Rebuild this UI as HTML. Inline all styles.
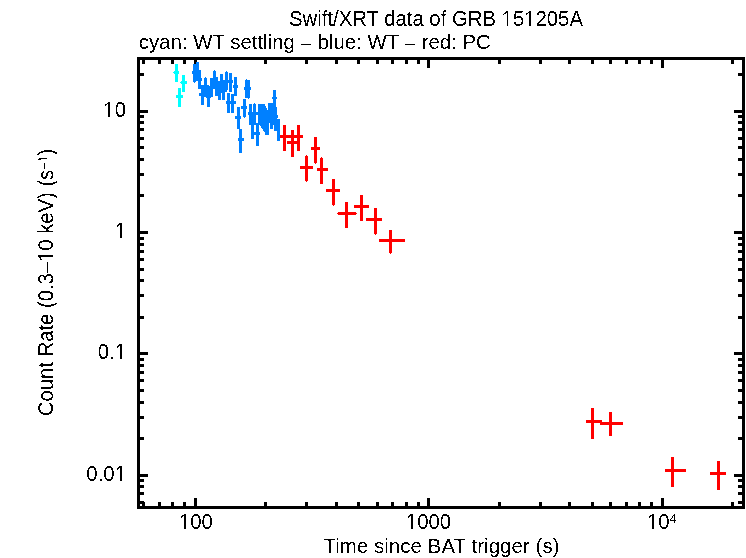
<!DOCTYPE html>
<html><head><meta charset="utf-8"><title>Swift/XRT data of GRB 151205A</title>
<style>
html,body{margin:0;padding:0;background:#fff;}
body{width:746px;height:558px;overflow:hidden;font-family:"Liberation Sans",sans-serif;}
svg{display:block;}
</style></head><body>
<svg width="746" height="558" viewBox="0 0 746 558">
<defs><filter id="bw" filterUnits="userSpaceOnUse" x="0" y="0" width="746" height="558" color-interpolation-filters="sRGB"><feComponentTransfer><feFuncA type="discrete" tableValues="0 1"/></feComponentTransfer></filter></defs>
<rect x="0" y="0" width="746" height="558" fill="#fff"/>
<g shape-rendering="crispEdges">
<g fill="#000">
<rect x="137" y="57" width="608" height="3"/>
<rect x="137" y="506" width="608" height="3"/>
<rect x="137" y="57" width="3" height="452"/>
<rect x="742" y="57" width="3" height="452"/>
<rect x="142" y="60" width="3" height="4"/>
<rect x="142" y="502" width="3" height="4"/>
<rect x="158" y="60" width="3" height="4"/>
<rect x="158" y="502" width="3" height="4"/>
<rect x="171" y="60" width="3" height="4"/>
<rect x="171" y="502" width="3" height="4"/>
<rect x="183" y="60" width="3" height="4"/>
<rect x="183" y="502" width="3" height="4"/>
<rect x="194" y="60" width="3" height="8"/>
<rect x="194" y="498" width="3" height="8"/>
<rect x="264" y="60" width="3" height="4"/>
<rect x="264" y="502" width="3" height="4"/>
<rect x="305" y="60" width="3" height="4"/>
<rect x="305" y="502" width="3" height="4"/>
<rect x="335" y="60" width="3" height="4"/>
<rect x="335" y="502" width="3" height="4"/>
<rect x="357" y="60" width="3" height="4"/>
<rect x="357" y="502" width="3" height="4"/>
<rect x="376" y="60" width="3" height="4"/>
<rect x="376" y="502" width="3" height="4"/>
<rect x="391" y="60" width="3" height="4"/>
<rect x="391" y="502" width="3" height="4"/>
<rect x="405" y="60" width="3" height="4"/>
<rect x="405" y="502" width="3" height="4"/>
<rect x="417" y="60" width="3" height="4"/>
<rect x="417" y="502" width="3" height="4"/>
<rect x="427" y="60" width="3" height="8"/>
<rect x="427" y="498" width="3" height="8"/>
<rect x="498" y="60" width="3" height="4"/>
<rect x="498" y="502" width="3" height="4"/>
<rect x="539" y="60" width="3" height="4"/>
<rect x="539" y="502" width="3" height="4"/>
<rect x="568" y="60" width="3" height="4"/>
<rect x="568" y="502" width="3" height="4"/>
<rect x="591" y="60" width="3" height="4"/>
<rect x="591" y="502" width="3" height="4"/>
<rect x="609" y="60" width="3" height="4"/>
<rect x="609" y="502" width="3" height="4"/>
<rect x="625" y="60" width="3" height="4"/>
<rect x="625" y="502" width="3" height="4"/>
<rect x="638" y="60" width="3" height="4"/>
<rect x="638" y="502" width="3" height="4"/>
<rect x="650" y="60" width="3" height="4"/>
<rect x="650" y="502" width="3" height="4"/>
<rect x="661" y="60" width="3" height="8"/>
<rect x="661" y="498" width="3" height="8"/>
<rect x="731" y="60" width="3" height="4"/>
<rect x="731" y="502" width="3" height="4"/>
<rect x="140" y="501" width="4" height="3"/>
<rect x="738" y="501" width="4" height="3"/>
<rect x="140" y="492" width="4" height="3"/>
<rect x="738" y="492" width="4" height="3"/>
<rect x="140" y="485" width="4" height="3"/>
<rect x="738" y="485" width="4" height="3"/>
<rect x="140" y="479" width="4" height="3"/>
<rect x="738" y="479" width="4" height="3"/>
<rect x="140" y="474" width="8" height="3"/>
<rect x="734" y="474" width="8" height="3"/>
<rect x="140" y="437" width="4" height="3"/>
<rect x="738" y="437" width="4" height="3"/>
<rect x="140" y="416" width="4" height="3"/>
<rect x="738" y="416" width="4" height="3"/>
<rect x="140" y="401" width="4" height="3"/>
<rect x="738" y="401" width="4" height="3"/>
<rect x="140" y="389" width="4" height="3"/>
<rect x="738" y="389" width="4" height="3"/>
<rect x="140" y="379" width="4" height="3"/>
<rect x="738" y="379" width="4" height="3"/>
<rect x="140" y="371" width="4" height="3"/>
<rect x="738" y="371" width="4" height="3"/>
<rect x="140" y="364" width="4" height="3"/>
<rect x="738" y="364" width="4" height="3"/>
<rect x="140" y="358" width="4" height="3"/>
<rect x="738" y="358" width="4" height="3"/>
<rect x="140" y="352" width="8" height="3"/>
<rect x="734" y="352" width="8" height="3"/>
<rect x="140" y="316" width="4" height="3"/>
<rect x="738" y="316" width="4" height="3"/>
<rect x="140" y="294" width="4" height="3"/>
<rect x="738" y="294" width="4" height="3"/>
<rect x="140" y="279" width="4" height="3"/>
<rect x="738" y="279" width="4" height="3"/>
<rect x="140" y="268" width="4" height="3"/>
<rect x="738" y="268" width="4" height="3"/>
<rect x="140" y="258" width="4" height="3"/>
<rect x="738" y="258" width="4" height="3"/>
<rect x="140" y="250" width="4" height="3"/>
<rect x="738" y="250" width="4" height="3"/>
<rect x="140" y="243" width="4" height="3"/>
<rect x="738" y="243" width="4" height="3"/>
<rect x="140" y="237" width="4" height="3"/>
<rect x="738" y="237" width="4" height="3"/>
<rect x="140" y="231" width="8" height="3"/>
<rect x="734" y="231" width="8" height="3"/>
<rect x="140" y="194" width="4" height="3"/>
<rect x="738" y="194" width="4" height="3"/>
<rect x="140" y="173" width="4" height="3"/>
<rect x="738" y="173" width="4" height="3"/>
<rect x="140" y="158" width="4" height="3"/>
<rect x="738" y="158" width="4" height="3"/>
<rect x="140" y="146" width="4" height="3"/>
<rect x="738" y="146" width="4" height="3"/>
<rect x="140" y="137" width="4" height="3"/>
<rect x="738" y="137" width="4" height="3"/>
<rect x="140" y="128" width="4" height="3"/>
<rect x="738" y="128" width="4" height="3"/>
<rect x="140" y="121" width="4" height="3"/>
<rect x="738" y="121" width="4" height="3"/>
<rect x="140" y="115" width="4" height="3"/>
<rect x="738" y="115" width="4" height="3"/>
<rect x="140" y="110" width="8" height="3"/>
<rect x="734" y="110" width="8" height="3"/>
<rect x="140" y="73" width="4" height="3"/>
<rect x="738" y="73" width="4" height="3"/>
</g>
<g fill="#00ffff">
<rect x="175" y="64" width="3" height="18"/>
<rect x="174" y="71" width="5" height="3"/>
<rect x="182" y="75" width="3" height="17"/>
<rect x="181" y="81" width="6" height="3"/>
<rect x="178" y="88" width="3" height="19"/>
<rect x="176" y="95" width="7" height="3"/>
</g>
<g fill="#00ffff"><rect x="173" y="72" width="1" height="1"/><rect x="180" y="82" width="1" height="1"/></g>
<g fill="#0080ff">
<rect x="193" y="64" width="3" height="18"/>
<rect x="192" y="71" width="6" height="3"/>
<rect x="196" y="62" width="3" height="19"/>
<rect x="195" y="70" width="5" height="3"/>
<rect x="198" y="70" width="3" height="19"/>
<rect x="197" y="78" width="5" height="3"/>
<rect x="201" y="85" width="3" height="20"/>
<rect x="199" y="93" width="7" height="3"/>
<rect x="204" y="78" width="3" height="19"/>
<rect x="198" y="85" width="11" height="3"/>
<rect x="207" y="87" width="3" height="20"/>
<rect x="206" y="95" width="5" height="3"/>
<rect x="210" y="78" width="3" height="19"/>
<rect x="208" y="86" width="7" height="3"/>
<rect x="213" y="71" width="3" height="18"/>
<rect x="212" y="79" width="6" height="3"/>
<rect x="215" y="77" width="3" height="19"/>
<rect x="213" y="85" width="7" height="3"/>
<rect x="218" y="81" width="3" height="19"/>
<rect x="216" y="89" width="7" height="3"/>
<rect x="220" y="74" width="3" height="19"/>
<rect x="218" y="82" width="7" height="3"/>
<rect x="222" y="81" width="3" height="19"/>
<rect x="220" y="89" width="7" height="3"/>
<rect x="225" y="72" width="3" height="18"/>
<rect x="223" y="80" width="6" height="3"/>
<rect x="229" y="73" width="3" height="19"/>
<rect x="228" y="80" width="5" height="3"/>
<rect x="227" y="93" width="3" height="20"/>
<rect x="226" y="101" width="5" height="3"/>
<rect x="231" y="94" width="3" height="19"/>
<rect x="230" y="101" width="6" height="3"/>
<rect x="234" y="77" width="3" height="19"/>
<rect x="233" y="85" width="5" height="3"/>
<rect x="237" y="107" width="3" height="22"/>
<rect x="235" y="116" width="6" height="3"/>
<rect x="239" y="129" width="3" height="24"/>
<rect x="238" y="138" width="6" height="3"/>
<rect x="243" y="99" width="3" height="18"/>
<rect x="241" y="106" width="6" height="3"/>
<rect x="245" y="80" width="3" height="18"/>
<rect x="244" y="87" width="5" height="3"/>
<rect x="247" y="80" width="3" height="18"/>
<rect x="246" y="87" width="5" height="3"/>
<rect x="249" y="104" width="3" height="21"/>
<rect x="248" y="112" width="6" height="3"/>
<rect x="253" y="104" width="3" height="21"/>
<rect x="251" y="112" width="7" height="3"/>
<rect x="251" y="112" width="3" height="27"/>
<rect x="251" y="124" width="3" height="3"/>
<rect x="256" y="123" width="3" height="23"/>
<rect x="254" y="132" width="6" height="3"/>
<rect x="258" y="104" width="3" height="21"/>
<rect x="256" y="112" width="7" height="3"/>
<rect x="260" y="104" width="3" height="21"/>
<rect x="258" y="112" width="7" height="3"/>
<rect x="262" y="104" width="3" height="23"/>
<rect x="260" y="113" width="7" height="3"/>
<rect x="265" y="110" width="4" height="25"/>
<rect x="263" y="120" width="7" height="3"/>
<rect x="268" y="103" width="3" height="20"/>
<rect x="266" y="111" width="7" height="3"/>
<rect x="270" y="103" width="3" height="26"/>
<rect x="268" y="113" width="7" height="3"/>
<rect x="273" y="90" width="3" height="35"/>
<rect x="272" y="97" width="5" height="2"/>
<rect x="274" y="107" width="3" height="24"/>
<rect x="273" y="115" width="5" height="3"/>
<rect x="277" y="119" width="3" height="22"/>
<rect x="276" y="128" width="4" height="3"/>
</g>
<g fill="#0080ff">
<rect x="265" y="106" width="1" height="4"/>
<rect x="266" y="108" width="1" height="2"/>
<rect x="260" y="125" width="1" height="1"/>
<rect x="261" y="125" width="1" height="3"/>
<rect x="262" y="127" width="1" height="2"/>
<rect x="263" y="127" width="1" height="4"/>
<rect x="264" y="127" width="1" height="5"/>
<rect x="274" y="125" width="1" height="2"/>
<rect x="244" y="117" width="1" height="1"/>
<rect x="254" y="103" width="1" height="1"/>
<rect x="194" y="82" width="1" height="1"/>
<rect x="205" y="77" width="1" height="1"/>
<rect x="214" y="70" width="1" height="1"/>
<rect x="226" y="71" width="1" height="1"/>
<rect x="226" y="90" width="1" height="1"/>
<rect x="246" y="79" width="1" height="1"/>
<rect x="248" y="98" width="1" height="1"/>
</g>
<g fill="#ff0000">
<rect x="283" y="125" width="3" height="26"/>
<rect x="280" y="135" width="10" height="3"/>
<rect x="291" y="130" width="3" height="27"/>
<rect x="287" y="141" width="13" height="3"/>
<rect x="297" y="125" width="3" height="26"/>
<rect x="290" y="135" width="13" height="3"/>
<rect x="314" y="137" width="3" height="26"/>
<rect x="311" y="147" width="9" height="3"/>
<rect x="305" y="156" width="3" height="25"/>
<rect x="300" y="166" width="13" height="3"/>
<rect x="320" y="158" width="3" height="26"/>
<rect x="317" y="168" width="11" height="3"/>
<rect x="332" y="179" width="3" height="26"/>
<rect x="326" y="189" width="14" height="3"/>
<rect x="345" y="202" width="3" height="26"/>
<rect x="338" y="212" width="18" height="3"/>
<rect x="360" y="195" width="3" height="26"/>
<rect x="354" y="205" width="15" height="3"/>
<rect x="374" y="208" width="3" height="26"/>
<rect x="366" y="218" width="16" height="3"/>
<rect x="389" y="230" width="3" height="23"/>
<rect x="379" y="239" width="26" height="3"/>
<rect x="591" y="408" width="3" height="31"/>
<rect x="586" y="420" width="16" height="3"/>
<rect x="609" y="412" width="3" height="24"/>
<rect x="600" y="422" width="23" height="3"/>
<rect x="671" y="457" width="3" height="30"/>
<rect x="665" y="469" width="21" height="3"/>
<rect x="717" y="461" width="3" height="29"/>
<rect x="710" y="472" width="16" height="3"/>
</g>
<g fill="#ff0000">
<rect x="315" y="163" width="1" height="1"/>
<rect x="306" y="155" width="1" height="1"/>
<rect x="306" y="181" width="1" height="1"/>
<rect x="321" y="157" width="1" height="1"/>
<rect x="333" y="205" width="1" height="1"/>
<rect x="375" y="234" width="1" height="1"/>
<rect x="390" y="253" width="1" height="1"/>
<rect x="337" y="213" width="1" height="1"/>
<rect x="356" y="213" width="1" height="1"/>
</g>
</g>
<g font-family="'Liberation Sans', sans-serif" font-size="20.4px" fill="#000" filter="url(#bw)">
<text transform="translate(289,26) scale(1,1.04)" letter-spacing="-0.035">Swift/XRT data of GRB 151205A</text>
<text transform="translate(138.7,49) scale(1,1.03)" letter-spacing="0.015">cyan: WT settling <tspan font-size="18px" dx="0.67">–</tspan><tspan dx="0.67"> blue: WT </tspan><tspan font-size="18px" dx="0.67">–</tspan><tspan dx="0.67"> red: PC</tspan></text>
<text transform="translate(441.5,553) scale(1,1.03)" text-anchor="middle" letter-spacing="0.08">Time since BAT trigger (s)</text>
<text transform="translate(195.9,529) scale(1,1.04)" text-anchor="middle">100</text>
<text transform="translate(428.5,529) scale(1,1.04)" text-anchor="middle">1000</text>
<text transform="translate(647,529) scale(1,1.04)">10<tspan font-size="12.3px" dy="-5.7">4</tspan></text>
<text transform="translate(126,117) scale(1,1.04)" text-anchor="end">10</text>
<text transform="translate(126,238) scale(1,1.04)" text-anchor="end">1</text>
<text transform="translate(126,359) scale(1,1.04)" text-anchor="end">0.1</text>
<text transform="translate(126,481) scale(1,1.04)" text-anchor="end">0.01</text>
<text transform="translate(53,282.5) rotate(-90) scale(1,1.04)" text-anchor="middle" letter-spacing="-0.07">Count Rate (0.3–10 keV) (s<tspan font-size="12.3px" dy="-4.9" dx="0.3">–</tspan><tspan font-size="12.3px" dy="-0.8" dx="0.3">1</tspan><tspan dy="5.7">)</tspan></text>
</g>

<g fill="#fff" shape-rendering="crispEdges"><rect x="503" y="25" width="4" height="1"/><rect x="508" y="25" width="4" height="1"/><rect x="503" y="24" width="4" height="1"/><rect x="508" y="24" width="4" height="1"/><rect x="526" y="25" width="3" height="1"/><rect x="531" y="25" width="4" height="1"/><rect x="526" y="24" width="3" height="1"/><rect x="531" y="24" width="3" height="1"/><rect x="181" y="528" width="3" height="1"/><rect x="186" y="528" width="3" height="1"/><rect x="181" y="527" width="3" height="1"/><rect x="186" y="527" width="3" height="1"/><rect x="407" y="528" width="4" height="1"/><rect x="413" y="528" width="3" height="1"/><rect x="407" y="527" width="4" height="1"/><rect x="413" y="527" width="3" height="1"/><rect x="649" y="528" width="3" height="1"/><rect x="654" y="528" width="3" height="1"/><rect x="649" y="527" width="3" height="1"/><rect x="654" y="527" width="3" height="1"/><rect x="105" y="116" width="3" height="1"/><rect x="110" y="116" width="4" height="1"/><rect x="105" y="115" width="3" height="1"/><rect x="110" y="115" width="3" height="1"/><rect x="116" y="237" width="4" height="1"/><rect x="122" y="237" width="3" height="1"/><rect x="116" y="236" width="4" height="1"/><rect x="122" y="236" width="3" height="1"/><rect x="116" y="358" width="4" height="1"/><rect x="122" y="358" width="3" height="1"/><rect x="116" y="357" width="4" height="1"/><rect x="122" y="357" width="3" height="1"/><rect x="116" y="480" width="4" height="1"/><rect x="122" y="480" width="3" height="1"/><rect x="116" y="479" width="4" height="1"/><rect x="122" y="479" width="3" height="1"/><rect x="52" y="257" width="1" height="3"/><rect x="52" y="252" width="1" height="3"/><rect x="51" y="257" width="1" height="3"/><rect x="51" y="252" width="1" height="3"/><rect x="46" y="159" width="1" height="2"/><rect x="46" y="157" width="1" height="1"/></g>
</svg>
</body></html>
